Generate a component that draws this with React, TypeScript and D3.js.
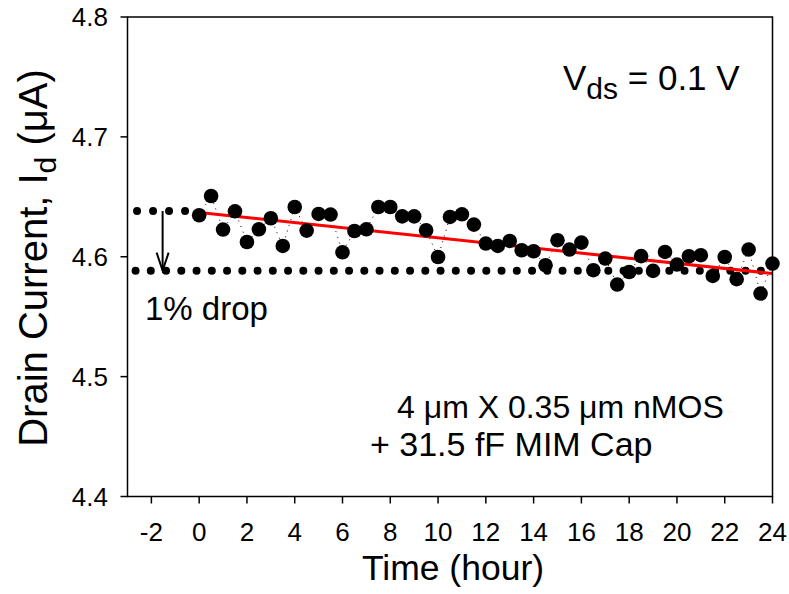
import React from "react";
import * as d3 from "d3";

const times: number[] = [
  0, 0.5, 1, 1.5, 2, 2.5, 3, 3.5, 4, 4.5, 5, 5.5, 6, 6.5, 7, 7.5, 8, 8.5, 9, 9.5,
  10, 10.5, 11, 11.5, 12, 12.5, 13, 13.5, 14, 14.5, 15, 15.5, 16, 16.5, 17, 17.5,
  18, 18.5, 19, 19.5, 20, 20.5, 21, 21.5, 22, 22.5, 23, 23.5, 24,
];
const current: number[] = [
  4.6346, 4.6507, 4.6227, 4.6379, 4.6123, 4.6229, 4.6321, 4.609, 4.6415, 4.6218,
  4.6357, 4.6352, 4.6037, 4.6215, 4.6229, 4.6415, 4.6415, 4.6337, 4.6337, 4.6221,
  4.5998, 4.6332, 4.6354, 4.6268, 4.611, 4.609, 4.6132, 4.6054, 4.6046, 4.5929,
  4.6138, 4.606, 4.6118, 4.5888, 4.5985, 4.5768, 4.5873, 4.6005, 4.5882, 4.604,
  4.5935, 4.6004, 4.6013, 4.584, 4.5998, 4.5813, 4.606, 4.5693, 4.5943,
];
const fitTimes: number[] = [0, 24];
const fitValues: number[] = [4.637, 4.586];
const refTop = 4.6381;
const refBottom = 4.5884;
const refStartTime = -2.6;
const arrowTime = -1.53;
const xTicks: number[] = [-2, 0, 2, 4, 6, 8, 10, 12, 14, 16, 18, 20, 22, 24];
const yTicks: number[] = [4.4, 4.5, 4.6, 4.7, 4.8];

const W = 789;
const H = 594;
const font = "'Liberation Sans', Arial, Helvetica, sans-serif";

export default function App() {
  const x = d3.scaleLinear().domain([-3, 24]).range([127.5, 772.5]);
  const y = d3.scaleLinear().domain([4.4, 4.8]).range([496.5, 17]);
  const pts = times.map((t, i) => [t, current[i]] as [number, number]);
  const line = d3
    .line<[number, number]>()
    .x((d) => x(d[0]))
    .y((d) => y(d[1]));
  const fit = fitTimes.map((t, i) => [t, fitValues[i]] as [number, number]);
  const ax = x(arrowTime);
  const ay1 = y(refTop);
  const ay2 = y(refBottom);

  return (
    <svg
      width={W}
      height={H}
      style={{ position: "absolute", left: 0, top: 0, background: "#fff" }}
      fontFamily={font}
    >
      <rect x={0} y={0} width={W} height={H} fill="#fff" />
      {/* reference dotted lines */}
      <line
        x1={x(refStartTime)}
        x2={x(0)}
        y1={y(refTop)}
        y2={y(refTop)}
        stroke="#000"
        strokeWidth={8}
        strokeLinecap="round"
        strokeDasharray="0 16"
      />
      <line
        x1={x(refStartTime) - 1.5}
        x2={x(24)}
        y1={y(refBottom)}
        y2={y(refBottom)}
        stroke="#000"
        strokeWidth={8}
        strokeLinecap="round"
        strokeDasharray="0 15.25"
      />
      {/* arrow */}
      <line x1={ax} x2={ax} y1={ay1} y2={ay2} stroke="#000" strokeWidth={2} />
      <path
        d={`M${ax - 6},${ay2 - 18} L${ax},${ay2} L${ax + 6},${ay2 - 18}`}
        fill="none"
        stroke="#000"
        strokeWidth={2}
      />
      {/* connecting dotted line */}
      <path
        d={line(pts) || ""}
        fill="none"
        stroke="#000"
        strokeWidth={1}
        strokeDasharray="1 5"
      />
      {/* regression line */}
      <path d={line(fit) || ""} fill="none" stroke="#ff0000" strokeWidth={3} />
      {/* data points */}
      {pts.map((d, i) => (
        <circle key={i} cx={x(d[0])} cy={y(d[1])} r={7.3} fill="#000" />
      ))}
      {/* frame */}
      <rect
        x={x(-3)}
        y={y(4.8)}
        width={x(24) - x(-3)}
        height={y(4.4) - y(4.8)}
        fill="none"
        stroke="#000"
        strokeWidth={1.5}
      />
      {/* y ticks */}
      {yTicks.map((v) => (
        <g key={v}>
          <line x1={x(-3) - 7} x2={x(-3)} y1={y(v)} y2={y(v)} stroke="#000" strokeWidth={1.5} />
          <text x={108} y={y(v)} dy="0.36em" textAnchor="end" fontSize={26}>
            {v.toFixed(1)}
          </text>
        </g>
      ))}
      {/* x ticks */}
      {xTicks.map((t) => (
        <g key={t}>
          <line x1={x(t)} x2={x(t)} y1={y(4.4)} y2={y(4.4) + 7} stroke="#000" strokeWidth={1.5} />
          <text x={x(t)} y={541} textAnchor="middle" fontSize={26}>
            {t}
          </text>
        </g>
      ))}
      {/* axis titles */}
      <text x={453} y={580} textAnchor="middle" fontSize={35.5}>
        Time (hour)
      </text>
      <text
        transform={`translate(47,${258}) rotate(-90)`}
        textAnchor="middle"
        fontSize={40}
      >
        Drain Current, I<tspan fontSize={30} dy={9}>d</tspan>
        <tspan dy={-9}> (μA)</tspan>
      </text>
      {/* annotations */}
      <text x={563} y={90} fontSize={35}>
        V<tspan fontSize={30} dy={9}>ds</tspan>
        <tspan dy={-9}> = 0.1 V</tspan>
      </text>
      <text x={145} y={320} fontSize={33}>
        1% drop
      </text>
      <text x={397} y={418} fontSize={32}>
        4 μm X 0.35 μm nMOS
      </text>
      <text x={370} y={456} fontSize={34}>
        + 31.5 fF MIM Cap
      </text>
    </svg>
  );
}
